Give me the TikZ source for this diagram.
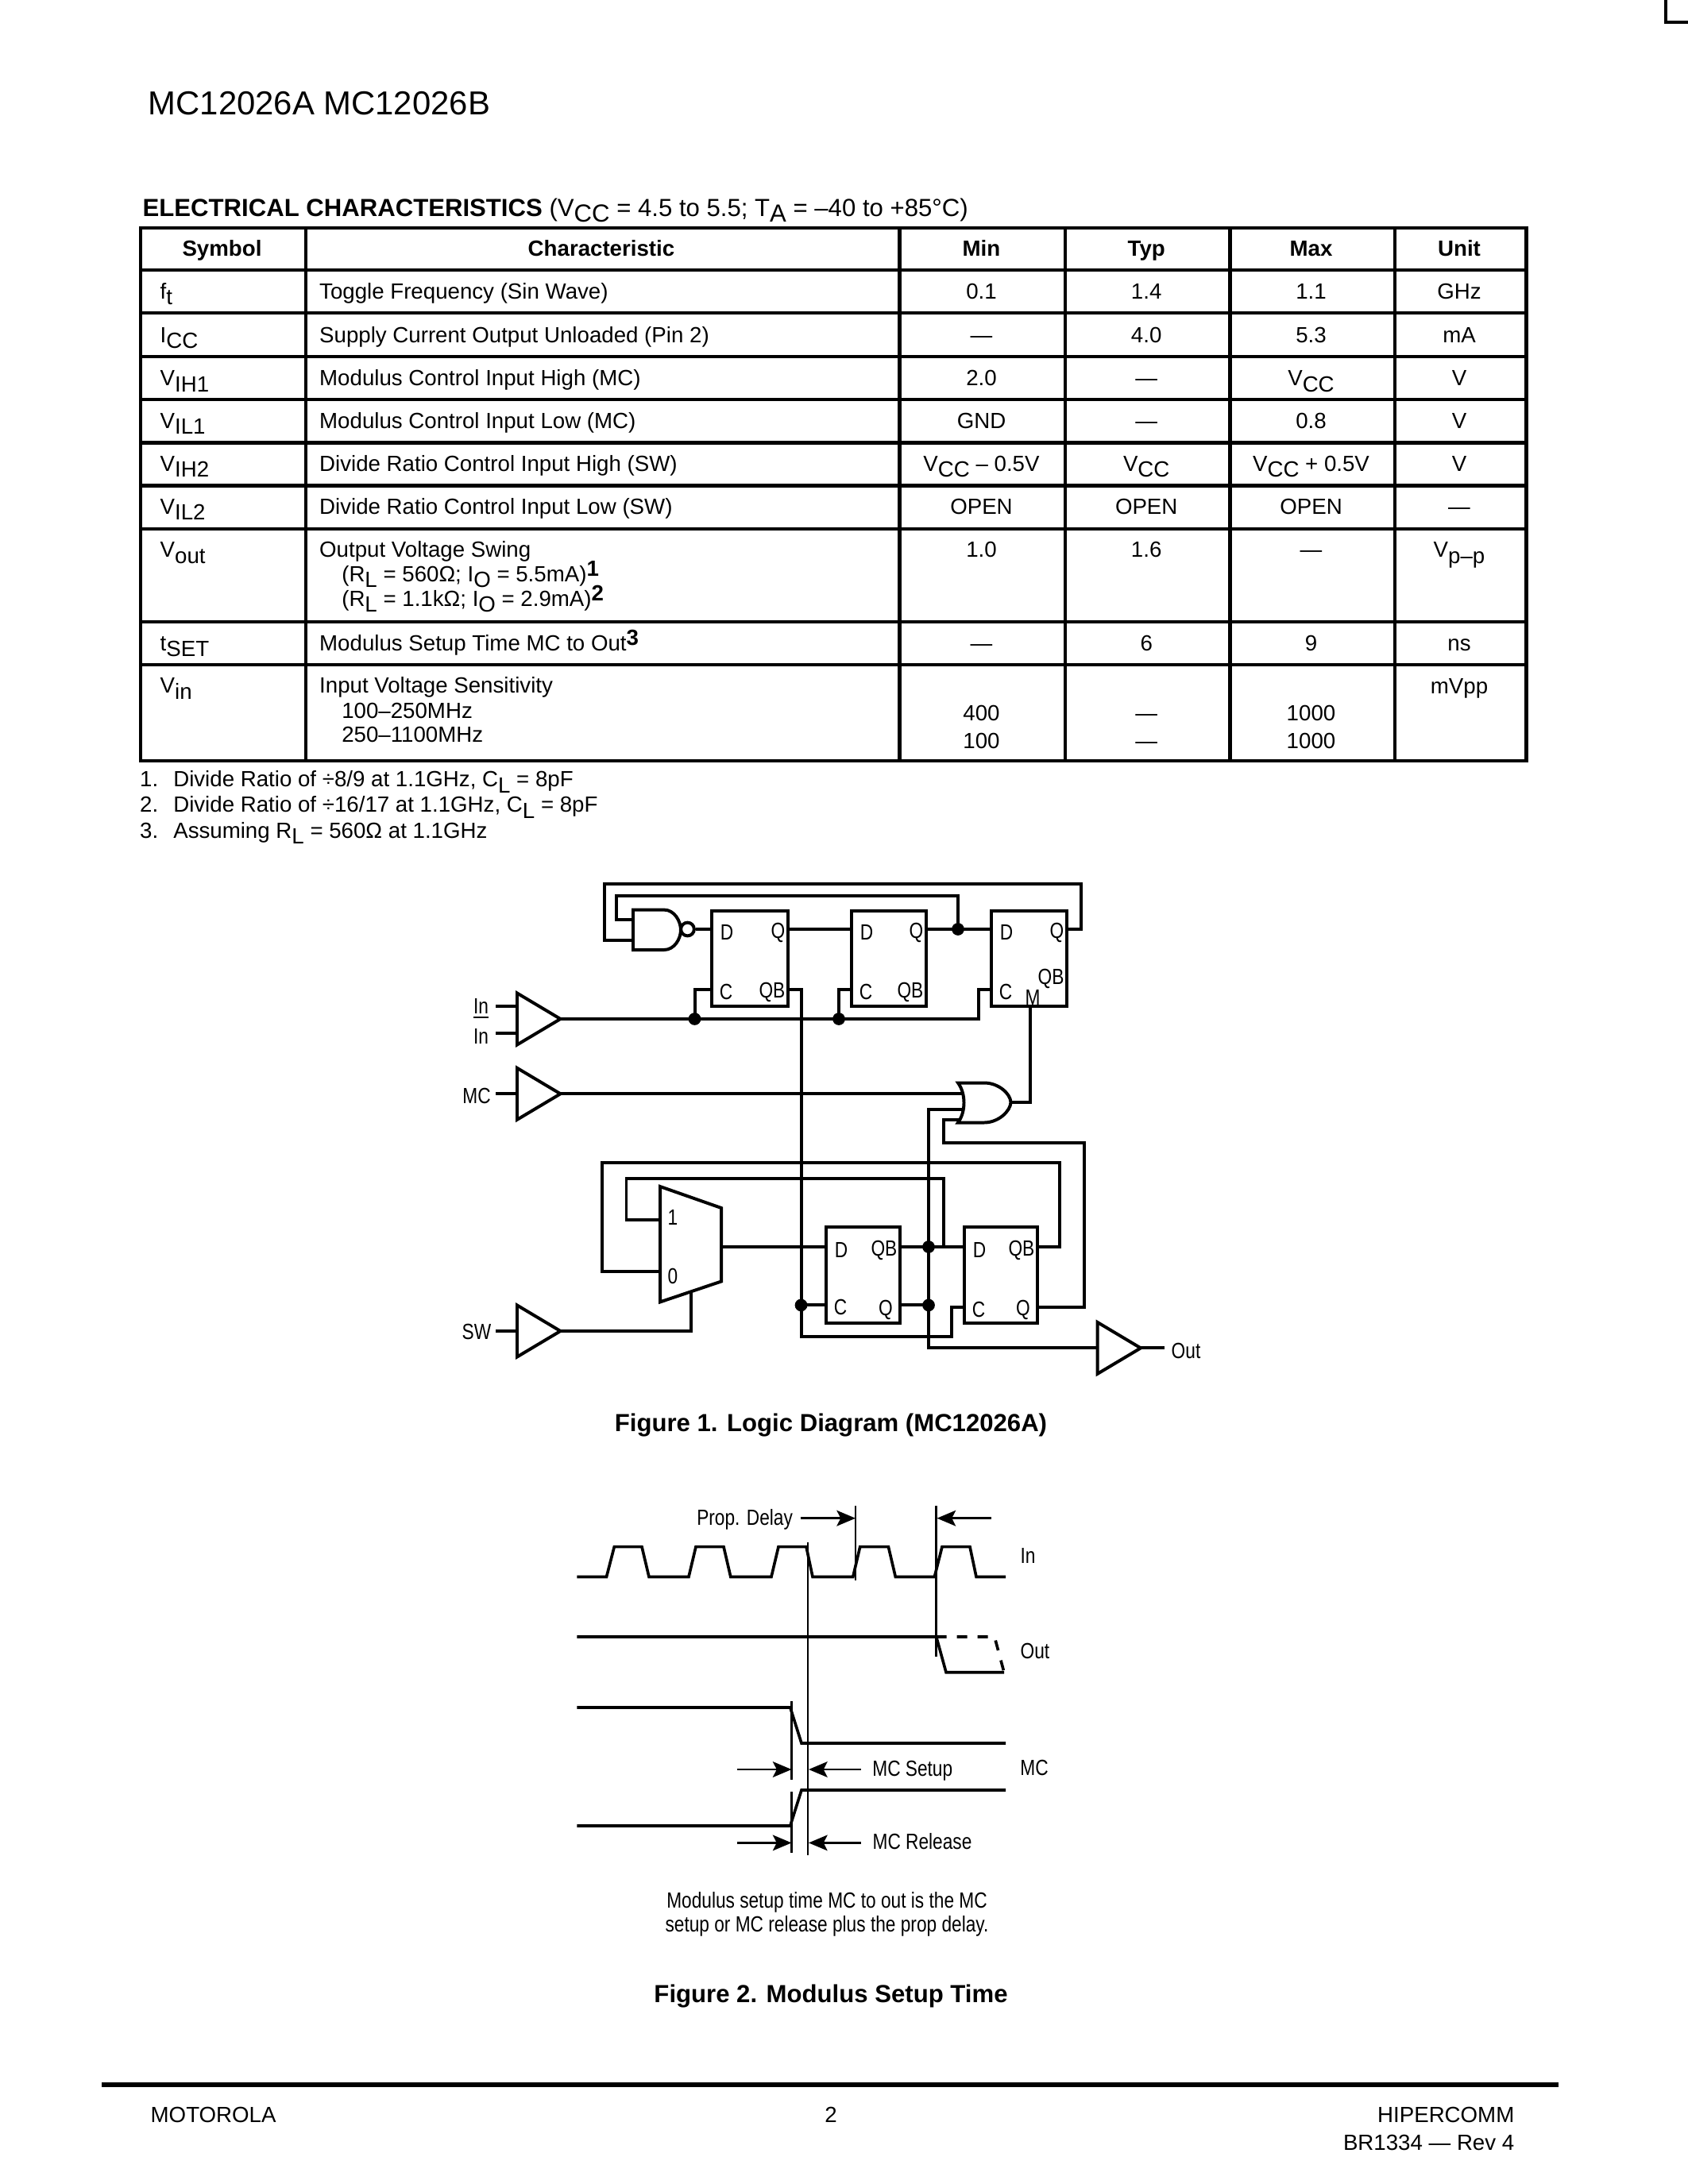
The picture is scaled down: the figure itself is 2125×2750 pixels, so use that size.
\documentclass[tikz,border=0pt]{standalone}
\usepackage{fontspec}
\setmainfont{Liberation Sans}
\newfontfamily\narrowfont[FakeStretch=0.82]{Liberation Sans}
\usetikzlibrary{arrows.meta}

\def\pxu{0.01016cm}
\newcommand{\dn}[1]{\raisebox{-2.2pt}{#1}}
\newcommand{\upb}[1]{\raisebox{2pt}{\textbf{#1}}}

\tikzset{
  txt/.style={inner sep=0pt,font=\fontsize{8}{10}\selectfont},
  cellc/.style={txt,anchor=base},
  celll/.style={txt,anchor=base west},
  hdr/.style={cellc,font=\fontsize{8}{10}\selectfont\bfseries},
  capt/.style={inner sep=0pt,anchor=base,font=\fontsize{9}{11}\selectfont\bfseries},
  lbl/.style={inner sep=0pt,font=\fontsize{8}{10}\selectfont\narrowfont},
  wire/.style={line width=1.15pt,line join=miter},
  rule/.style={line width=1.2pt},
  wave/.style={line width=1.05pt,line join=miter},
  tick/.style={line width=0.75pt},
  dim/.style={line width=0.75pt,-{Stealth[length=2.4mm,width=2mm,inset=0.5mm]}},
  dot/.style={circle,fill=black,inner sep=0pt,minimum size=1.6mm},
}

% name, left, right, top, bottom, y of D, y of C, text at upper right
\newcommand{\flop}[8]{
  \node[draw,wire,inner sep=0pt,minimum width={(#3-#2)*\pxu},minimum height={(#5-#4)*\pxu}]
    (#1) at ({(#2+#3)/2},{(#4+#5)/2}) {};
  \coordinate (#1-d) at (#2,#6);
  \coordinate (#1-up) at (#3,#6);
  \coordinate (#1-c) at (#2,#7);
  \coordinate (#1-lo) at (#3,#7);
  \node[lbl] (#1-dl) at ({#2+19},{#6+4}) {D};
  \node[lbl] (#1-cl) at ({#2+18},{#7+3}) {C};
  \node[lbl,anchor=east] (#1-ul) at ({#3-3},{#6+4}) {#8};
}

% name, left, y of tip
\newcommand{\bufgate}[3]{
  \begin{scope}[shift={(#2,#3)}]
    \draw[wire] (0,-32.5) -- (54.5,0) -- (0,32.5) -- cycle;
    \coordinate (#1-tip) at (54.5,0);
    \coordinate (#1-in) at (0,0);
  \end{scope}
}

\begin{document}
\begin{tikzpicture}[x=0.01016cm,y=-0.01016cm]
  \useasboundingbox (0,0) rectangle (2125,2750);

  \draw[line width=4pt/3.46] (2097,0) -- (2097,28) -- (2125,28);

  \node[inner sep=0pt,anchor=base west,font=\fontsize{12.1}{14}\selectfont] (head) at (186,145) {MC12026A MC12026B};
  \node[inner sep=0pt,anchor=base west,font=\fontsize{9}{11}\selectfont] (title) at (179,272)
    {\textbf{ELECTRICAL CHARACTERISTICS} (V\dn{CC} = 4.5 to 5.5; T\dn{A} = –40 to +85°C)};

  % table
  \draw[rule] (177,287) rectangle (1921.5,958);
  \foreach \yy in {340,394,449,503,557.5,611.5,666,783,837}
    \draw[rule] (177,\yy) -- (1921.5,\yy);
  \foreach \xx in {385,1132.5,1341,1548.5,1756}
    \draw[rule] (\xx,287) -- (\xx,958);

  \node[hdr] (hsym) at (279.5,322.6) {Symbol};
  \node[hdr] (hchr) at (757,322.6) {Characteristic};
  \node[hdr] (hmin) at (1235.5,322.6) {Min};
  \node[hdr] (htyp) at (1443.2,322.6) {Typ};
  \node[hdr] (hmax) at (1650.5,322.6) {Max};
  \node[hdr] (hunit) at (1837,322.6) {Unit};

  \foreach \rn/\yb/\sym/\chr/\mn/\ty/\mx/\un in {
    r1/376/{f\dn{t}}/{Toggle Frequency (Sin Wave)}/0.1/1.4/1.1/GHz,
    r2/431/{I\dn{CC}}/{Supply Current Output Unloaded (Pin 2)}/—/4.0/5.3/mA,
    r3/485.5/{V\dn{IH1}}/{Modulus Control Input High (MC)}/2.0/—/{V\dn{CC}}/V,
    r4/539/{V\dn{IL1}}/{Modulus Control Input Low (MC)}/GND/—/0.8/V,
    r5/593/{V\dn{IH2}}/{Divide Ratio Control Input High (SW)}/{V\dn{CC} – 0.5V}/{V\dn{CC}}/{V\dn{CC} + 0.5V}/V,
    r6/647/{V\dn{IL2}}/{Divide Ratio Control Input Low (SW)}/OPEN/OPEN/OPEN/—,
    r7/701.6/{V\dn{out}}/{Output Voltage Swing}/1.0/1.6/—/{V\dn{p–p}},
    r8/819/{t\dn{SET}}/{Modulus Setup Time MC to Out\upb{3}}/—/6/9/ns}
  {
    \node[celll] (sym\rn) at (201,\yb) {\sym};
    \node[celll] (chr\rn) at (401.5,\yb) {\chr};
    \node[cellc] (min\rn) at (1235.5,\yb) {\mn};
    \node[cellc] (typ\rn) at (1443.2,\yb) {\ty};
    \node[cellc] (max\rn) at (1650.5,\yb) {\mx};
    \node[cellc] (unit\rn) at (1837,\yb) {\un};
  }
  \node[celll] (swa) at (429.6,732) {(R\dn{L} = 560Ω; I\dn{O} = 5.5mA)\upb{1}};
  \node[celll] (swb) at (429.6,763) {(R\dn{L} = 1.1kΩ; I\dn{O} = 2.9mA)\upb{2}};

  \node[celll] (symr9) at (201,872.8) {V\dn{in}};
  \node[celll] (chrr9) at (401.5,872.8) {Input Voltage Sensitivity};
  \node[celll] (sena) at (429.6,904) {100–250MHz};
  \node[celll] (senb) at (429.6,934) {250–1100MHz};
  \node[cellc] (unitr9) at (1837,873) {mVpp};
  \node[cellc] (mina) at (1235.5,907) {400};
  \node[cellc] (minb) at (1235.5,942.5) {100};
  \node[cellc] (typa) at (1443.2,907) {—};
  \node[cellc] (typb) at (1443.2,942.5) {—};
  \node[cellc] (maxa) at (1650.5,907) {1000};
  \node[cellc] (maxb) at (1650.5,942.5) {1000};

  \node[celll] (noa) at (175.5,990.7) {1.};
  \node[celll] (nob) at (175.5,1022.5) {2.};
  \node[celll] (noc) at (175.5,1055) {3.};
  \node[celll] (fna) at (217.6,990.7) {Divide Ratio of ÷8/9 at 1.1GHz, C\dn{L} = 8pF};
  \node[celll] (fnb) at (217.6,1022.5) {Divide Ratio of ÷16/17 at 1.1GHz, C\dn{L} = 8pF};
  \node[celll] (fnc) at (217.6,1055) {Assuming R\dn{L} = 560Ω at 1.1GHz};

  % logic diagram
  \flop{ff1}{896}{992}{1147}{1267}{1170}{1246}{Q}
  \flop{ff2}{1072}{1166}{1147}{1267}{1170}{1246}{Q}
  \flop{ff3}{1248}{1343}{1147}{1267}{1170}{1246}{Q}
  \flop{ff4}{1040}{1133}{1545}{1666}{1570}{1643.4}{QB}
  \flop{ff5}{1214}{1306}{1545}{1666}{1570}{1646}{QB}
  \node[lbl,anchor=east] (ff1-ql) at (989,1249) {QB};
  \node[lbl,anchor=east] (ff2-ql) at (1163,1249) {QB};
  \node[lbl] (ff3-ql) at (1323,1232.7) {QB};
  \node[lbl] (ff3-ml) at (1300,1256) {M};
  \node[lbl] (ff4-ql) at (1115,1649) {Q};
  \node[lbl] (ff5-ql) at (1288,1649) {Q};

  \bufgate{in}{651}{1283}
  \bufgate{mc}{651}{1377.3}
  \bufgate{sw}{651}{1676}
  \bufgate{ob}{1381.5}{1697.4}

  \node[lbl] (inb) at (605.5,1270) {\underline{In}};
  \node[lbl] (ina) at (605.5,1304.5) {In};
  \node[lbl] (mcl) at (600,1380) {MC};
  \node[lbl] (swl) at (600,1677) {SW};
  \node[lbl] (outl) at (1493,1701) {Out};

  \coordinate (inbs) at (624,1266.6);
  \coordinate (inas) at (624,1301);
  \coordinate (inbg) at (651,1266.6);
  \coordinate (inag) at (651,1301);
  \coordinate (mcs) at (624,1377.3);
  \coordinate (sws) at (624,1676);
  \coordinate (obs) at (1466,1697.4);
  \draw[wire] (inbs) -- (inbg);
  \draw[wire] (inas) -- (inag);
  \draw[wire] (mcs) -- (mc-in);
  \draw[wire] (sws) -- (sw-in);
  \draw[wire] (ob-tip) -- (obs);

  % nand
  \draw[wire] (797,1145.6) -- (836,1145.6) .. controls (849,1145.6) and (857,1160) .. (857,1171)
    .. controls (857,1182) and (849,1196) .. (836,1196) -- (797,1196) -- cycle;
  \node[draw,wire,circle,inner sep=0pt,minimum size=1.7mm] (bub) at (865.5,1170) {};
  \coordinate (nanda) at (797,1158);
  \coordinate (nandb) at (797,1184);
  \coordinate (loopa) at (1360.5,1112.6);
  \coordinate (loopb) at (761,1112.6);
  \coordinate (loopc) at (776,1127.8);
  \node[dot] (dotq) at (1206,1170) {};
  \draw[wire] (bub) -- (ff1-d);
  \draw[wire] (ff1-up) -- (ff2-d);
  \draw[wire] (ff2-up) -- (ff3-d);
  \draw[wire] (ff3-up) -| (loopa) -- (loopb) |- (nandb);
  \draw[wire] (dotq.center) |- (loopc) |- (nanda);

  % clock
  \node[dot] (dotca) at (874.5,1283) {};
  \node[dot] (dotcb) at (1056,1283) {};
  \coordinate (buse) at (1232,1283);
  \draw[wire] (in-tip) -- (buse) |- (ff3-c);
  \draw[wire] (dotca.center) |- (ff1-c);
  \draw[wire] (dotcb.center) |- (ff2-c);

  % or gate
  \draw[wire] (1206,1363.5) -- (1239,1363.5) .. controls (1257,1363.5) and (1272,1377) .. (1272.5,1388)
    .. controls (1272,1399) and (1257,1413.5) .. (1239,1413.5) -- (1206,1413.5)
    .. controls (1216,1400) and (1216,1377) .. (1206,1363.5) -- cycle;
  \coordinate (ora) at (1212,1377.3);
  \coordinate (orb) at (1214,1397);
  \coordinate (orc) at (1207,1409.5);
  \coordinate (oro) at (1272.5,1388);
  \coordinate (ff3-m) at (1297,1267);
  \coordinate (outb) at (1169,1697.4);
  \coordinate (joga) at (1188,1438.5);
  \coordinate (jogb) at (1365,1438.5);
  \draw[wire] (mc-tip) -- (ora);
  \draw[wire] (oro) -| (ff3-m);
  \draw[wire] (orb) -| (outb) -- (ob-in);
  \draw[wire] (orc) -| (joga) -- (jogb) |- (ff5-lo);

  % mux
  \draw[wire] (831,1494) -- (908,1521) -- (908,1613.5) -- (831,1639.4) -- cycle;
  \node[lbl] (muxa) at (847,1533) {1};
  \node[lbl] (muxb) at (847,1607) {0};
  \coordinate (muxi) at (831,1536);
  \coordinate (muxj) at (831,1601.4);
  \coordinate (muxo) at (908,1570);
  \coordinate (muxs) at (870,1628);
  \coordinate (fba) at (788.5,1484);
  \coordinate (fbb) at (1188,1484);
  \coordinate (fbc) at (758,1464);
  \coordinate (fbd) at (1334,1464);
  \draw[wire] (muxo) -- (ff4-d);
  \draw[wire] (muxi) -| (fba) -- (fbb) |- (ff4-up);
  \draw[wire] (muxj) -| (fbc) -- (fbd) |- (ff5-up);
  \draw[wire] (sw-tip) -| (muxs);

  \node[dot] (dotf) at (1008.5,1643.4) {};
  \node[dot] (dotd) at (1169,1570) {};
  \node[dot] (dote) at (1169,1643.4) {};
  \coordinate (busb) at (1008.5,1682.7);
  \coordinate (busc) at (1198,1682.7);
  \draw[wire] (ff1-lo) -| (busb) -- (busc) |- (ff5-c);
  \draw[wire] (dotf.center) -- (ff4-c);
  \draw[wire] (ff4-lo) -- (dote.center);
  \draw[wire] (dotd.center) -- (ff5-d);

  \node[capt] (figa) at (1046,1802) {Figure 1. Logic Diagram (MC12026A)};

  % timing
  \draw[wave] (726.4,1985.5) -- (763.5,1985.5) -- (773.3,1947.6) -- (808,1947.6) -- (817,1985.5)
    -- (867,1985.5) -- (876,1947.6) -- (911,1947.6) -- (919.8,1985.5)
    -- (971,1985.5) -- (980,1947.6) -- (1015,1947.6) -- (1023,1985.5)
    -- (1073.8,1985.5) -- (1082.7,1947.6) -- (1118.4,1947.6) -- (1127.3,1985.5)
    -- (1176.4,1985.5) -- (1186,1947.6) -- (1221,1947.6) -- (1229,1985.5) -- (1266,1985.5);
  \draw[wave] (726.4,2061) -- (1178.7,2061) -- (1191,2105.7) -- (1264,2105.7);
  \draw[wave,dash pattern=on 13pt/3.46 off 13pt/3.46] (1178.7,2061) -- (1252,2061) -- (1264,2105.7);
  \draw[wave] (726.4,2150) -- (994.8,2150) -- (1009,2195) -- (1266,2195);
  \draw[wave] (726.4,2299) -- (994.8,2299) -- (1009,2254) -- (1266,2254);

  \draw[tick] (1017,1942) -- (1017,2335.7);
  \draw[tick] (996.5,2142.4) -- (996.5,2240.8);
  \draw[tick] (996.5,2256) -- (996.5,2332.6);
  \draw[tick] (1077,1896) -- (1077,1990);
  \draw[tick] (1178.7,1896) -- (1178.7,2085.8);

  \draw[dim] (1007.7,1911.7) -- (1077,1911.7);
  \draw[dim] (1248,1911.7) -- (1179.5,1911.7);
  \draw[dim] (927.8,2228) -- (996.5,2228);
  \draw[dim] (1083.6,2228) -- (1018,2228);
  \draw[dim] (927.8,2320.4) -- (996.5,2320.4);
  \draw[dim] (1083.6,2320.4) -- (1018,2320.4);

  \node[lbl] (tdel) at (937.6,1913.5) {Prop. Delay};
  \node[lbl] (tin) at (1294,1959) {In};
  \node[lbl] (tout) at (1303,2079) {Out};
  \node[lbl] (tmc) at (1302,2225.5) {MC};
  \node[lbl] (tset) at (1148.8,2230) {MC Setup};
  \node[lbl] (trel) at (1161,2318.5) {MC Release};
  \node[lbl] (nota) at (1041,2395) {Modulus setup time MC to out is the MC};
  \node[lbl] (notb) at (1041,2425.6) {setup or MC release plus the prop delay.};

  \node[capt] (figb) at (1046,2521) {Figure 2. Modulus Setup Time};

  % footer
  \draw[line width=1.5pt] (128,2625) -- (1962,2625);
  \node[celll] (fta) at (189,2672) {MOTOROLA};
  \node[cellc] (ftb) at (1046,2672) {2};
  \node[txt,anchor=base east] (ftc) at (1907,2672) {HIPERCOMM};
  \node[txt,anchor=base east] (ftd) at (1907,2707) {BR1334 — Rev 4};
\end{tikzpicture}
\end{document}
